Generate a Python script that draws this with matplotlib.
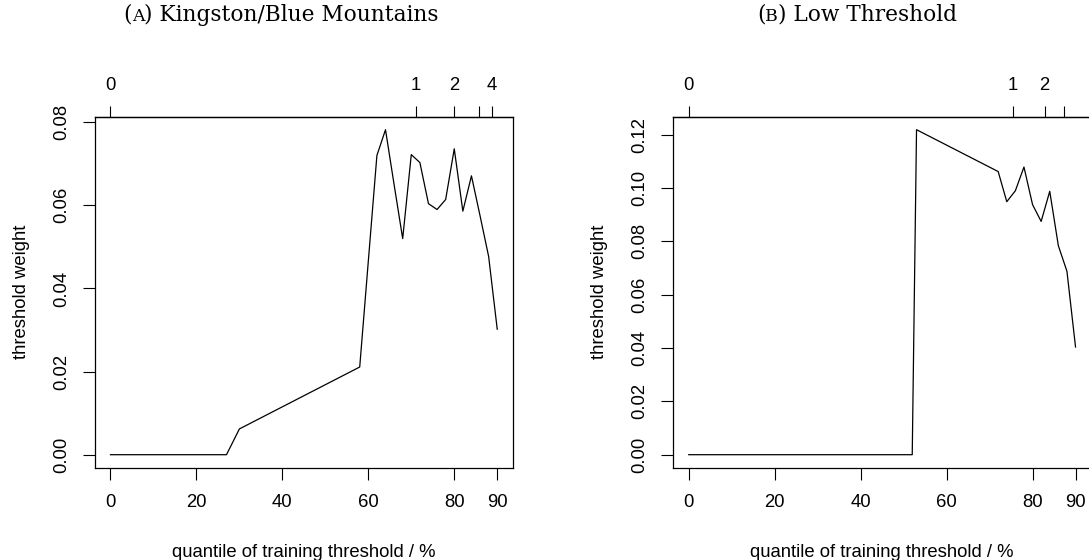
import matplotlib
matplotlib.use('Agg')
import matplotlib.pyplot as plt

# ---------------- data ----------------
a_title_tag = "A"
a_title = "Kingston/Blue Mountains"
a_x = [0, 27, 30, 58, 62, 64, 66, 68, 70, 72, 74, 76, 78, 80, 82, 84, 86, 88, 90]
a_y = [0.0, 0.0, 0.0062, 0.0211, 0.0720, 0.0782, 0.0650, 0.0520, 0.0722, 0.0703,
       0.0604, 0.0590, 0.0614, 0.0736, 0.0586, 0.0671, 0.0575, 0.0477, 0.0302]
a_yticks = [0.00, 0.02, 0.04, 0.06, 0.08]
a_top_pos = [0, 71, 80, 85.7, 88.8]
a_top_lab = ["0", "1", "2", "", "4"]

b_title_tag = "B"
b_title = "Low Threshold"
b_x = [0, 52, 53, 72, 74, 76, 78, 80, 82, 84, 86, 88, 90]
b_y = [0.0, 0.0, 0.1219, 0.1062, 0.0949, 0.0990, 0.1079, 0.0938, 0.0875, 0.0988,
       0.0784, 0.0688, 0.0404]
b_yticks = [0.00, 0.02, 0.04, 0.06, 0.08, 0.10, 0.12]
b_top_pos = [0, 75.4, 82.8, 87.3]
b_top_lab = ["0", "1", "2", ""]

xticks = [0, 20, 40, 60, 80, 90]
xlabel = "quantile of training threshold / %"
ylabel = "threshold weight"

# ---------------- layout ----------------
W, H, DPI = 1089, 560, 100
plt.rcParams['font.family'] = ['Liberation Sans', 'DejaVu Sans']
FS = 13.3
TFS = 15.6
SERIF = ['DejaVu Serif', 'Liberation Serif']

fig = plt.figure(figsize=(W / DPI, H / DPI), dpi=DPI)

def px(v):
    return v * 72.0 / DPI

def panel(left_px, xs, ys, yticks, top_pos, top_lab):
    ax = fig.add_axes([left_px / W, (H - 467.7) / H, 417.7 / W, 351.0 / H])
    ax.plot(xs, ys, color='black', lw=0.9)
    xr = max(xs) - min(xs)
    ax.set_xlim(min(xs) - 0.04 * xr, max(xs) + 0.04 * xr)
    yr = max(ys) - min(ys)
    ax.set_ylim(min(ys) - 0.04 * yr, max(ys) + 0.04 * yr)
    ax.set_xticks(xticks)
    ax.set_xticklabels([str(t) for t in xticks])
    ax.set_yticks(yticks)
    ax.set_yticklabels(["%.2f" % t for t in yticks])
    for s in ax.spines.values():
        s.set_linewidth(0.9)
        s.set_color('black')
    ax.tick_params(axis='x', direction='out', length=px(12), width=0.8,
                   labelsize=FS, pad=px(14))
    ax.tick_params(axis='y', direction='out', length=px(12), width=0.8,
                   labelsize=FS, pad=px(13), labelrotation=90)
    for lab in ax.get_yticklabels():
        lab.set_va('center')
    ax.set_xlabel(xlabel, fontsize=FS, labelpad=px(33))
    ax.set_ylabel(ylabel, fontsize=FS, labelpad=px(23))
    sec = ax.secondary_xaxis('top')
    sec.set_xticks(top_pos)
    sec.set_xticklabels(top_lab)
    sec.tick_params(direction='out', length=px(11), width=0.8, labelsize=FS,
                    pad=px(12))
    sec.spines['top'].set_linewidth(0.9)
    return ax

axA = panel(95.0, a_x, a_y, a_yticks, a_top_pos, a_top_lab)
axB = panel(673.3, b_x, b_y, b_yticks, b_top_pos, b_top_lab)

renderer = fig.canvas.get_renderer()

def title(cx, tag, txt):
    # small-caps style panel tag followed by the caption, centred at cx
    pieces = [("(", TFS), (tag, TFS * 0.8), (") " + txt, TFS)]
    objs = []
    for s, size in pieces:
        t = fig.text(0, 1 - 21 / H, s, ha='left', va='baseline', family=SERIF,
                     fontsize=size)
        objs.append(t)
    widths = [o.get_window_extent(renderer).width for o in objs]
    x = cx - sum(widths) / 2.0
    for o, w in zip(objs, widths):
        o.set_x(x / W)
        x += w

title(281, a_title_tag, a_title)
title(857, b_title_tag, b_title)

fig.savefig('out.png', dpi=DPI)
